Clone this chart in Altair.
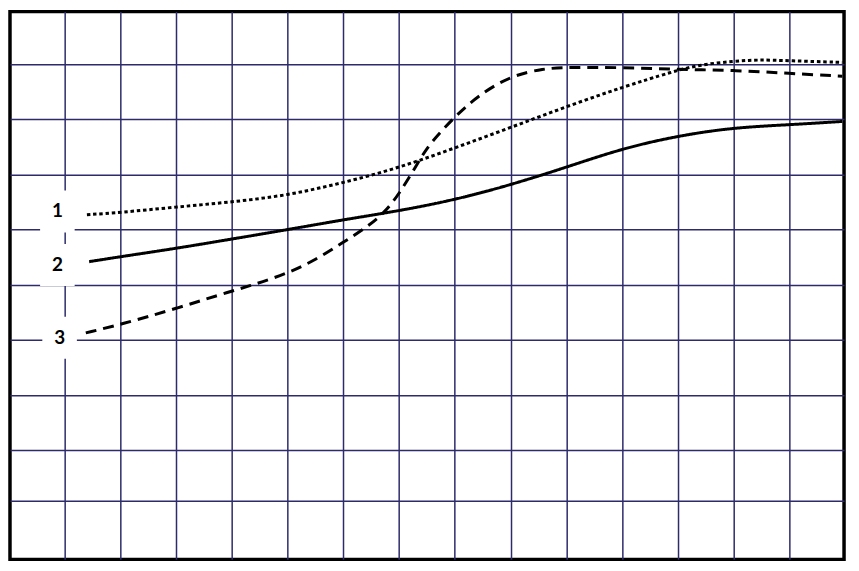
import altair as alt
import pandas as pd

# x in grid-column units, y in grid-row units
x1 = [1.4, 2.0, 3.0, 4.0, 5.0, 6.0, 7.0, 8.0, 9.0, 10.0, 11.0, 11.93, 12.4, 13.0, 13.45, 14.0, 14.95]
y1 = [6.27, 6.31, 6.41, 6.50, 6.62, 6.85, 7.12, 7.48, 7.85, 8.23, 8.58, 8.87, 8.99, 9.05, 9.08, 9.06, 9.03]

x2 = [1.44, 2.0, 3.0, 4.0, 5.0, 6.0, 7.0, 8.0, 9.0, 10.0, 11.0, 12.0, 13.0, 14.0, 14.95]
y2 = [5.42, 5.51, 5.66, 5.83, 6.00, 6.18, 6.34, 6.54, 6.81, 7.13, 7.47, 7.70, 7.85, 7.90, 7.96]

x3 = [1.38, 2.0, 3.0, 4.0, 4.42, 5.0, 5.5, 6.0, 6.44, 6.73, 7.0, 7.35, 7.54, 8.0, 8.42, 9.0, 9.6, 10.0, 11.0, 12.0, 13.0, 14.0, 14.95]
y3 = [4.13, 4.28, 4.57, 4.89, 5.01, 5.21, 5.45, 5.77, 6.06, 6.30, 6.64, 7.23, 7.55, 8.05, 8.43, 8.79, 8.92, 8.94, 8.94, 8.90, 8.89, 8.83, 8.78]

label_text = ["1", "2", "3"]
label_x = [0.87, 0.87, 0.91]
label_y = [6.33, 5.36, 4.04]

x_grid = [1, 2, 3, 4, 5, 6, 7, 8, 9, 10, 11, 12, 13, 14]
y_grid = [1.096, 2, 3, 4, 5, 6, 7, 8, 9]

X_DOMAIN = [0.02, 14.982]
Y_DOMAIN = [0.026, 9.95]

rows = []
for s, xs_, ys_ in (("1", x1, y1), ("2", x2, y2), ("3", x3, y3)):
    for i, (a, b) in enumerate(zip(xs_, ys_)):
        rows.append({"series": s, "x": a, "y": b, "order": i})
df = pd.DataFrame(rows)

lab = pd.DataFrame({"label": label_text, "x": label_x, "y": label_y})

xs = alt.Scale(domain=X_DOMAIN, nice=False, zero=False)
ys = alt.Scale(domain=Y_DOMAIN, nice=False, zero=False)

xaxis = alt.Axis(values=x_grid, grid=True, labels=False, ticks=False, domain=False, title=None)
yaxis = alt.Axis(values=y_grid, grid=True, labels=False, ticks=False, domain=False, title=None)

lines = alt.Chart(df).mark_line(color="black", strokeWidth=3, interpolate="basis").encode(
    x=alt.X("x:Q", scale=xs, axis=xaxis),
    y=alt.Y("y:Q", scale=ys, axis=yaxis),
    order="order:Q",
    detail="series:N",
    strokeDash=alt.StrokeDash(
        "series:N",
        scale=alt.Scale(domain=["1", "2", "3"], range=[[3.5, 2.8], [1, 0], [11, 7]]),
        legend=None,
    ),
)

boxes = alt.Chart(lab).transform_calculate(
    x0="datum.x - 0.31", x1="datum.x + 0.31", y0="datum.y - 0.38", y1="datum.y + 0.38"
).mark_rect(color="white").encode(
    x=alt.X("x0:Q", scale=xs, axis=xaxis), x2="x1:Q",
    y=alt.Y("y0:Q", scale=ys, axis=yaxis), y2="y1:Q",
)

texts = alt.Chart(lab).mark_text(
    font="Lato", fontWeight="bold", fontSize=19, color="black", align="center", baseline="middle"
).encode(
    x=alt.X("x:Q", scale=xs, axis=xaxis),
    y=alt.Y("y:Q", scale=ys, axis=yaxis),
    text="label:N",
)

chart = alt.layer(lines, boxes, texts).properties(
    width=839, height=551,
    padding={"left": 2, "top": 2, "right": 2, "bottom": 2},
    background="white",
).configure_view(
    stroke="black", strokeWidth=3.5
).configure_axis(
    gridColor="#2d2b6b", gridWidth=1.5, gridOpacity=1
)

chart.save("out.html", embed_options={"renderer": "svg", "actions": False})
